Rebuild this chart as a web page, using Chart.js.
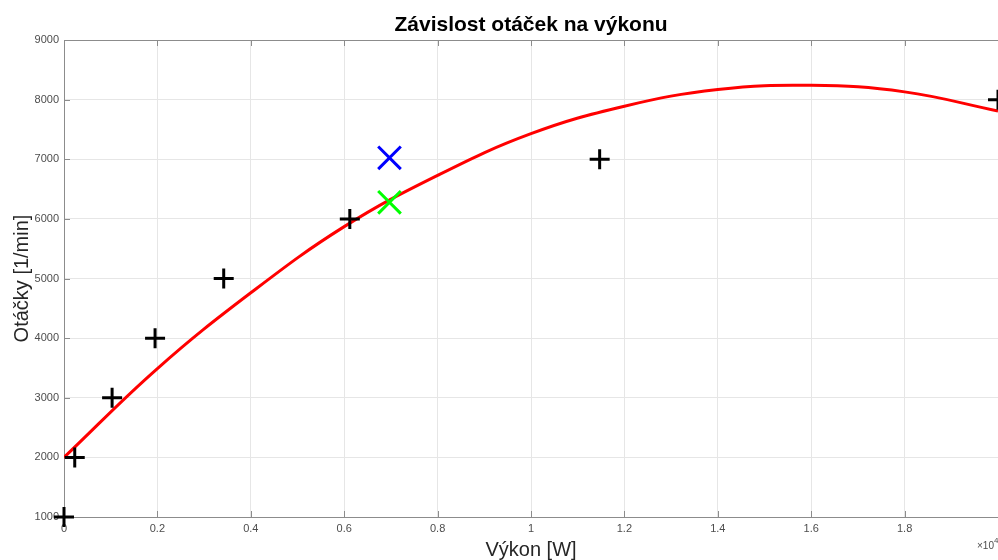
<!DOCTYPE html>
<html>
<head>
<meta charset="utf-8">
<script src="https://cdn.jsdelivr.net/npm/chart.js@4"></script>
<style>
  html, body { margin: 0; padding: 0; background: #fff; }
  #wrap { width: 998px; height: 560px; }
</style>
</head>
<body>
<div id="wrap"><canvas id="chart" width="998" height="560"></canvas></div>
<script>
// measured points (black plus)
const measX = [0, 0.023, 0.103, 0.195, 0.342, 0.612, 1.147, 2.0];
const measY = [1000, 2000, 3000, 4000, 5000, 6000, 7000, 8000];
// fitted curve
const fitX = [0, 0.2, 0.4, 0.6, 0.8, 1.0, 1.2, 1.4, 1.6, 1.8, 2.0];
const fitY = [2000, 3490, 4760, 5870, 6730, 7430, 7890, 8170, 8240, 8130, 7810];
// single highlighted points
const blueX = [0.697];
const blueY = [7025];
const greenX = [0.697];
const greenY = [6277];
// axis ticks
const xTicks = [0, 0.2, 0.4, 0.6, 0.8, 1, 1.2, 1.4, 1.6, 1.8, 2];
const yTicks = [1000, 2000, 3000, 4000, 5000, 6000, 7000, 8000, 9000];

const FONT = '"Liberation Sans", Arial, Helvetica, sans-serif';
const toXY = (xs, ys) => xs.map((x, i) => ({ x: x, y: ys[i] }));

const matlabBox = {
    id: 'matlabBox',
    beforeDatasetsDraw(chart) {
        const { ctx, chartArea: a, scales } = chart;
        ctx.save();
        ctx.strokeStyle = '#8c8c8c';
        ctx.lineWidth = 1;
        ctx.strokeRect(a.left + 0.5, a.top + 0.5, a.right - a.left, a.bottom - a.top);
        // inward ticks
        ctx.beginPath();
        xTicks.forEach(v => {
            const px = Math.round(scales.x.getPixelForValue(v)) + 0.5;
            ctx.moveTo(px, a.bottom); ctx.lineTo(px, a.bottom - 6);
            ctx.moveTo(px, a.top); ctx.lineTo(px, a.top + 6);
        });
        yTicks.forEach(v => {
            const py = Math.round(scales.y.getPixelForValue(v)) + 0.5;
            ctx.moveTo(a.left, py); ctx.lineTo(a.left + 6, py);
        });
        ctx.stroke();
        ctx.restore();
    },
    afterDraw(chart) {
        const { ctx, chartArea: a } = chart;
        ctx.save();
        ctx.fillStyle = '#000';
        ctx.font = 'bold 21px ' + FONT;
        ctx.textAlign = 'center';
        ctx.textBaseline = 'alphabetic';
        ctx.fillText('Závislost otáček na výkonu', (a.left + a.right) / 2, 31);
        // exponent label (cut by the right edge)
        ctx.fillStyle = '#4d4d4d';
        ctx.font = '10px ' + FONT;
        ctx.textAlign = 'left';
        ctx.fillText('×10', 977, 549);
        ctx.font = '8px ' + FONT;
        ctx.fillText('4', 994, 543);
        ctx.restore();
    }
};

new Chart(document.getElementById('chart'), {
    type: 'scatter',
    data: {
        datasets: [
            {
                label: 'fit',
                type: 'line',
                data: toXY(fitX, fitY),
                borderColor: '#ff0000',
                borderWidth: 3,
                pointRadius: 0,
                tension: 0.4,
                fill: false,
                order: 3
            },
            {
                label: 'measured',
                data: toXY(measX, measY),
                pointStyle: 'cross',
                pointRadius: 10,
                borderColor: '#000000',
                borderWidth: 3,
                clip: false,
                order: 2
            },
            {
                label: 'blue',
                data: toXY(blueX, blueY),
                pointStyle: 'crossRot',
                pointRadius: 16,
                borderColor: '#0000ff',
                borderWidth: 3,
                order: 1
            },
            {
                label: 'green',
                data: toXY(greenX, greenY),
                pointStyle: 'crossRot',
                pointRadius: 16,
                borderColor: '#00ff00',
                borderWidth: 3,
                order: 1
            }
        ]
    },
    options: {
        responsive: false,
        animation: false,
        events: [],
        layout: { autoPadding: false, padding: { top: 40, right: 0, bottom: 0, left: 0 } },
        plugins: { legend: { display: false }, tooltip: { enabled: false } },
        scales: {
            x: {
                type: 'linear',
                min: 0, max: 2,
                afterBuildTicks(scale) { scale.ticks = xTicks.map(v => ({ value: v })); },
                afterFit(scale) { scale.height = 43; scale.paddingLeft = 0; scale.paddingRight = 0; },
                grid: { color: '#e6e6e6', drawTicks: false },
                border: { display: false },
                ticks: {
                    padding: 5,
                    color: '#4d4d4d',
                    font: { family: FONT, size: 11 },
                    maxRotation: 0,
                    callback: v => v >= 2 ? '' : String(+v.toFixed(1))
                },
                title: {
                    display: true,
                    text: 'Výkon [W]',
                    color: '#262626',
                    font: { family: FONT, size: 20 },
                    padding: { top: 0, bottom: -2 }
                }
            },
            y: {
                type: 'linear',
                min: 1000, max: 9000,
                afterBuildTicks(scale) { scale.ticks = yTicks.map(v => ({ value: v })); },
                afterFit(scale) { scale.width = 64; },
                grid: { color: '#e6e6e6', drawTicks: false },
                border: { display: false },
                ticks: {
                    padding: 5,
                    color: '#4d4d4d',
                    font: { family: FONT, size: 11 },
                    callback: v => String(v)
                },
                title: {
                    display: true,
                    text: 'Otáčky [1/min]',
                    color: '#262626',
                    font: { family: FONT, size: 20 },
                    padding: { top: 10, bottom: 0 }
                }
            }
        }
    },
    plugins: [matlabBox]
});
</script>
</body>
</html>
